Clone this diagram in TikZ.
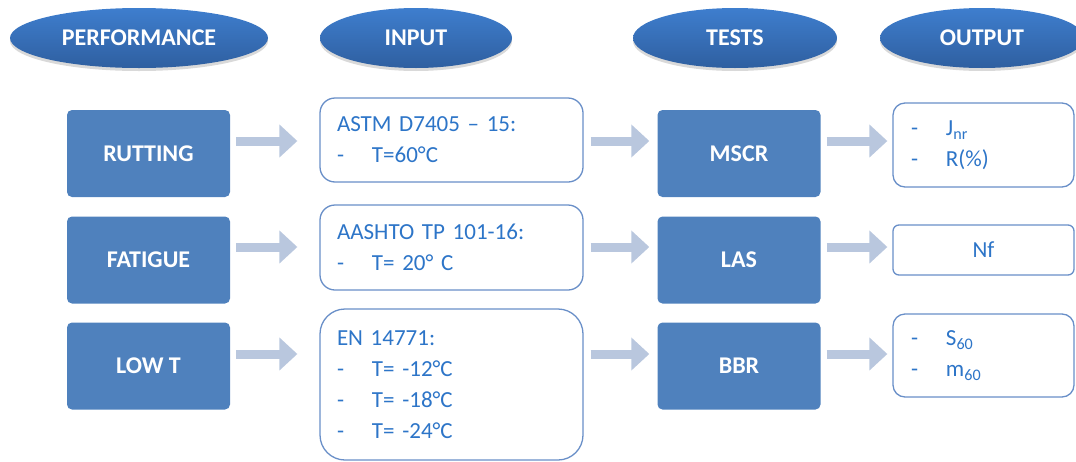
\documentclass[tikz,border=0pt]{standalone}
\usepackage{fontspec}
\setmainfont{Carlito}
\usetikzlibrary{arrows.meta,shadows,shapes.geometric}
\definecolor{boxblue}{RGB}{79,129,189}
\definecolor{arrowc}{RGB}{185,199,222}
\definecolor{lineblue}{RGB}{105,143,200}
\definecolor{textblue}{RGB}{45,117,200}
\definecolor{elltop}{RGB}{62,126,206}
\definecolor{ellbot}{RGB}{47,95,160}
\newcommand\dashitem[1]{\makebox[35pt][l]{-}#1}
\begin{document}
\begin{tikzpicture}[x=1pt,y=-1pt,
  ellhead/.style={ellipse, inner sep=0pt, top color=elltop, bottom color=ellbot,
    draw=none, text=white, font=\bfseries\fontsize{24}{28}\selectfont,
    drop shadow={shadow xshift=0pt, shadow yshift=-3pt, opacity=0.3}},
  pbox/.style={fill=boxblue, rounded corners=5pt, minimum width=163pt, minimum height=87pt,
    inner sep=0pt, text=white, font=\bfseries\fontsize{24}{28}\selectfont},
  inbox/.style={draw=lineblue, line width=1.3pt, fill=white, text=textblue, align=left,
    text width=229pt, inner xsep=17pt, inner ysep=0pt, minimum width=263pt,
    font=\fontsize{23}{31}\selectfont},
  outbox/.style={draw=lineblue, line width=1.3pt, fill=white, text=textblue, align=left,
    text width=145pt, inner xsep=18pt, inner ysep=0pt, minimum width=181pt,
    font=\fontsize{23}{31}\selectfont},
  bigarrow/.style={draw=arrowc, line width=9pt, -{Triangle[length=18pt,width=32pt]}}
]
\useasboundingbox (0,0) rectangle (1076,461);

% headers
\node[ellhead, minimum width=258pt, minimum height=60pt] (hperf) at (139,38) {PERFORMANCE};
\node[ellhead, minimum width=192pt, minimum height=60pt] (hin) at (416,38) {INPUT};
\node[ellhead, minimum width=204pt, minimum height=60pt] (htest) at (735,38) {TESTS};
\node[ellhead, minimum width=204pt, minimum height=60pt] (hout) at (982,38) {OUTPUT};

% performance
\node[pbox] (rut) at (148.5,153.5) {RUTTING};
\node[pbox] (fat) at (148.5,260) {FATIGUE};
\node[pbox] (low) at (148.5,366) {LOW T};

% input
\node[inbox, minimum height=84pt, rounded corners=15pt] (in1) at (451.5,140)
  {ASTM D7405 – 15:\\\dashitem{T=60°C}};
\node[inbox, minimum height=85pt, rounded corners=15pt] (in2) at (451.5,247.5)
  {AASHTO TP 101-16:\\\dashitem{T= 20° C}};
\node[inbox, minimum height=151pt, rounded corners=25pt] (in3) at (451.5,384.5)
  {EN 14771:\\\dashitem{T= -12°C}\\\dashitem{T= -18°C}\\\dashitem{T= -24°C}};

% tests
\node[pbox] (t1) at (739,153.5) {MSCR};
\node[pbox] (t2) at (739,260) {LAS};
\node[pbox] (t3) at (739,366) {BBR};

% output
\node[outbox, minimum height=84pt, rounded corners=12pt] (o1) at (983.5,145)
  {\dashitem{J\textsubscript{nr}}\\\dashitem{R(\%)}};
\node[outbox, minimum height=50pt, rounded corners=6pt, align=center] (o2) at (983.5,250) {Nf};
\node[outbox, minimum height=83pt, rounded corners=12pt] (o3) at (983.5,355.5)
  {\dashitem{S\textsubscript{60}}\\\dashitem{m\textsubscript{60}}};

% arrow rows
\coordinate (ay1) at (0,141);
\coordinate (ay2) at (0,247);
\coordinate (ay3) at (0,354);

\draw[bigarrow, shorten <=6pt, shorten >=22pt] (rut.east |- ay1) -- (in1.west |- ay1);
\draw[bigarrow, shorten <=6pt, shorten >=22pt] (fat.east |- ay2) -- (in2.west |- ay2);
\draw[bigarrow, shorten <=6pt, shorten >=22pt] (low.east |- ay3) -- (in3.west |- ay3);

\draw[bigarrow, shorten <=7pt, shorten >=8pt] (in1.east |- ay1) -- (t1.west |- ay1);
\draw[bigarrow, shorten <=7pt, shorten >=8pt] (in2.east |- ay2) -- (t2.west |- ay2);
\draw[bigarrow, shorten <=7pt, shorten >=8pt] (in3.east |- ay3) -- (t3.west |- ay3);

\draw[bigarrow, shorten <=6pt, shorten >=5pt] (t1.east |- ay1) -- (o1.west |- ay1);
\draw[bigarrow, shorten <=6pt, shorten >=5pt] (t2.east |- ay2) -- (o2.west |- ay2);
\draw[bigarrow, shorten <=6pt, shorten >=5pt] (t3.east |- ay3) -- (o3.west |- ay3);
\end{tikzpicture}
\end{document}
